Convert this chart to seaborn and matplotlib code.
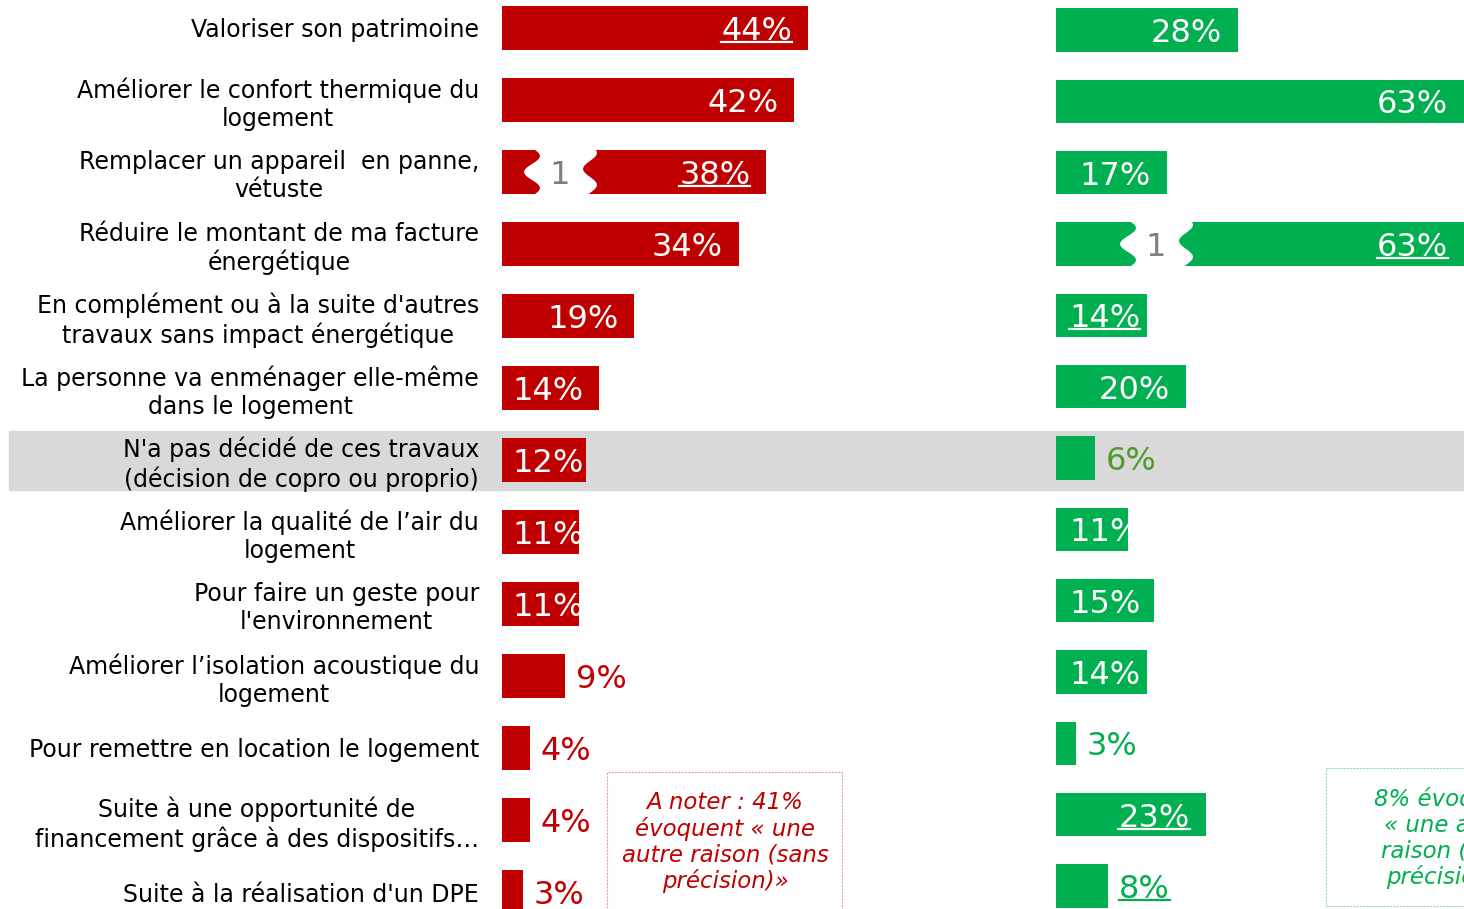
import matplotlib
matplotlib.use("Agg")
import matplotlib.pyplot as plt
import seaborn as sns
import pandas as pd
import numpy as np
from matplotlib.patches import Rectangle, Polygon
from matplotlib.lines import Line2D
from matplotlib.transforms import IdentityTransform

# ---- data ----
categories = [
    "Valoriser son patrimoine",
    "Améliorer le confort thermique du\nlogement",
    "Remplacer un appareil  en panne,\nvétuste",
    "Réduire le montant de ma facture\nénergétique",
    "En complément ou à la suite d'autres\ntravaux sans impact énergétique",
    "La personne va enménager elle-même\ndans le logement",
    "N'a pas décidé de ces travaux\n(décision de copro ou proprio)",
    "Améliorer la qualité de l’air du\nlogement",
    "Pour faire un geste pour\nl'environnement",
    "Améliorer l’isolation acoustique du\nlogement",
    "Pour remettre en location le logement",
    "Suite à une opportunité de\nfinancement grâce à des dispositifs…",
    "Suite à la réalisation d'un DPE",
]
left_values = [44, 42, 38, 34, 19, 14, 12, 11, 11, 9, 4, 4, 3]
right_values = [28, 63, 17, 63, 14, 20, 6, 11, 15, 14, 3, 23, 8]
left_underlined = [True, False, True, False, False, False, False, False, False, False, False, False, False]
right_underlined = [False, False, False, True, True, False, False, False, False, False, False, True, True]
highlight_row = 6
left_badge = (2, "1")
right_badge = (3, "1")
left_note = "A noter : 41%\névoquent « une\nautre raison (sans\nprécision)»"
right_note = "8% évoquent\n« une autre\nraison (sans\nprécision)»"

RED = "#C00000"
GREEN = "#00B050"
DARK_GREEN = "#4F9A2A"
GREY = "#D9D9D9"

W, H = 1464, 909
fig = plt.figure(figsize=(W / 100, H / 100), dpi=100)
plt.rcParams["font.family"] = ["DejaVu Sans"]

df = pd.DataFrame({"cat": categories, "left": left_values, "right": right_values})

# highlight band across the whole row
fig.add_artist(Rectangle((9 / W, 1 - 490 / H), 1455 / W, 59 / H,
                         transform=fig.transFigure, color=GREY, zorder=-5))

ax_l = fig.add_axes([502 / W, 0, 498 / W, 1])
ax_r = fig.add_axes([1056 / W, 0, 408 / W, 1])

sns.barplot(data=df, x="left", y="cat", orient="h", color=RED, saturation=1,
            width=0.61, ax=ax_l)
sns.barplot(data=df, x="right", y="cat", orient="h", color=GREEN, saturation=1,
            width=0.61, ax=ax_r)

# pixel scale: left 6.96 px per %, right 6.5 px per %
ax_l.set_xlim(0, 498 / 6.96)
ax_r.set_xlim(0, 408 / 6.5)
ax_l.set_ylim((H - 28) / 72, -28 / 72)
ax_r.set_ylim((H - 30) / 71.33, -30 / 71.33)

for ax in (ax_l, ax_r):
    ax.patch.set_facecolor("none")
    for s in ax.spines.values():
        s.set_visible(False)
    ax.set_xlabel("")
    ax.set_ylabel("")
    ax.set_xticks([])

ax_l.tick_params(axis="y", length=0, pad=16.5, labelsize=17)
for lab in ax_l.get_yticklabels():
    lab.set_multialignment("center")
ax_r.set_yticks([])

# ---- value labels ----
def add_labels(ax, values, underlined, pxu, big, outside_color, inner_off):
    texts = []
    for i, v in enumerate(values):
        lab = f"{v}%"
        if v >= 10:
            if v >= big:
                t = ax.text(min(v, ax.get_xlim()[1]) - 16 / pxu, i, lab, ha="right",
                            va="center_baseline", color="white", fontsize=23)
            else:
                t = ax.text(inner_off / pxu, i, lab, ha="left", va="center_baseline",
                            color="white", fontsize=23)
        else:
            col = DARK_GREEN if (i == highlight_row and ax is ax_r) else outside_color
            t = ax.text(v + 11 / pxu, i, lab, ha="left", va="center_baseline",
                        color=col, fontsize=23)
        texts.append((t, underlined[i]))
    return texts

lt = add_labels(ax_l, left_values, left_underlined, 6.96, 15, RED, 10)
rt = add_labels(ax_r, right_values, right_underlined, 6.5, 17, GREEN, 13)

# ---- badges "1" ----
def badge(ax, row, xpx_off, txt):
    cx, cy = ax.transData.transform((0, row))
    cx += xpx_off
    t = np.linspace(0, 1, 30)
    hh = 24
    ys = cy + hh - 2 * hh * t
    left = cx - 28 + 8 * np.sin(np.pi * 3 * t)
    right = cx + 30 + 7 * np.sin(np.pi * 3 * t + 0.6)
    pts = np.vstack([np.column_stack([left, ys]), np.column_stack([right[::-1], ys[::-1]])])
    fig.add_artist(Polygon(pts, closed=True, transform=IdentityTransform(),
                           facecolor="white", edgecolor="none", zorder=5))
    fig.text(cx, cy, txt, transform=IdentityTransform(), ha="center",
             va="center_baseline", color="#7F7F7F", fontsize=23, zorder=6)

badge(ax_l, left_badge[0], 58, left_badge[1])
badge(ax_r, right_badge[0], 100, right_badge[1])

# ---- notes ----
fig.add_artist(Rectangle((607 / W, 1 - 920 / H), 235 / W, 148 / H, transform=fig.transFigure,
                         facecolor="none", edgecolor="#E8A0A0", linestyle=(0, (2, 1)),
                         linewidth=0.8))
fig.text(725 / W, 1 - 842 / H, left_note, ha="center", va="center", color=RED,
         fontsize=16.5, style="italic", linespacing=1.15)
fig.add_artist(Rectangle((1326 / W, 1 - 906 / H), 200 / W, 138 / H, transform=fig.transFigure,
                         facecolor="none", edgecolor="#90DDB0", linestyle=(0, (2, 1)),
                         linewidth=0.8))
fig.text(1374 / W, 1 - 838 / H, right_note, ha="left", va="center", color=GREEN,
         fontsize=16.5, style="italic", linespacing=1.15, multialignment="center")

# ---- underlines ----
fig.canvas.draw()
r = fig.canvas.get_renderer()
for t, u in lt + rt:
    if not u:
        continue
    bb = t.get_window_extent(r)
    y = bb.y0 + 5
    fig.add_artist(Line2D([bb.x0, bb.x1], [y, y], transform=IdentityTransform(),
                          color=t.get_color(), linewidth=1.6, zorder=7))

fig.savefig("out.png", dpi=100)
